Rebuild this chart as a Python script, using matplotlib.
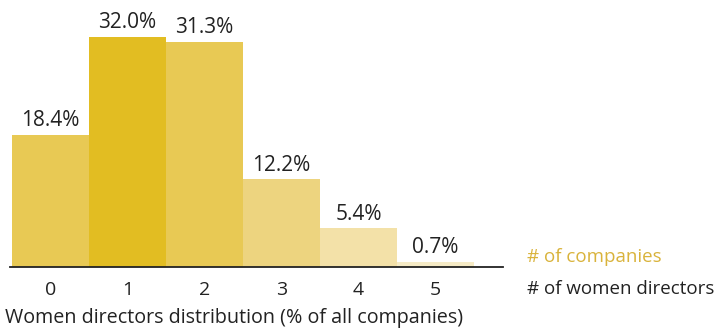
import matplotlib.pyplot as plt

plt.rcParams['font.family'] = ['Open Sans', 'DejaVu Sans']

directors = [0, 1, 2, 3, 4, 5]
share = [18.4, 32.0, 31.3, 12.2, 5.4, 0.7]
colors = ['#e8c954', '#e2bd22', '#e8c954', '#edd47f', '#f3e1a8', '#f6ebc6']

fig = plt.figure(figsize=(7.16, 3.28), dpi=100)
# axes box: left edge 10px, bottom 61px, width 493px, height 267px
ax = fig.add_axes([10/716, 61/328, 493/716, 267/328])

ax.bar(directors, share, width=1.0, color=colors, linewidth=0)
for x, v in zip(directors, share):
    ax.text(x, v + 0.5, f'{v:.1f}%', ha='center', va='bottom',
            fontsize=15, color='#222222')

ax.set_xlim(-0.526, 5.877)
ax.set_ylim(0, 37.1)
for s in ['top', 'right', 'left']:
    ax.spines[s].set_visible(False)
ax.spines['bottom'].set_color('#222222')
ax.spines['bottom'].set_linewidth(1.3)
ax.set_yticks([])
ax.set_xticks(directors)
ax.set_xticklabels([str(d) for d in directors], fontsize=14, color='#222222')
ax.tick_params(axis='x', length=0, pad=10)

fig.text(527/716, 1 - 257/328, '# of companies', fontsize=13.5,
         color='#d9b33b', va='center', ha='left')
fig.text(527/716, 1 - 289/328, '# of women directors', fontsize=13.5,
         color='#222222', va='center', ha='left')
fig.text(5/716, 1 - 318/328, 'Women directors distribution (% of all companies)',
         fontsize=14.2, color='#222222', va='center', ha='left')

fig.savefig('out.png', dpi=100)
